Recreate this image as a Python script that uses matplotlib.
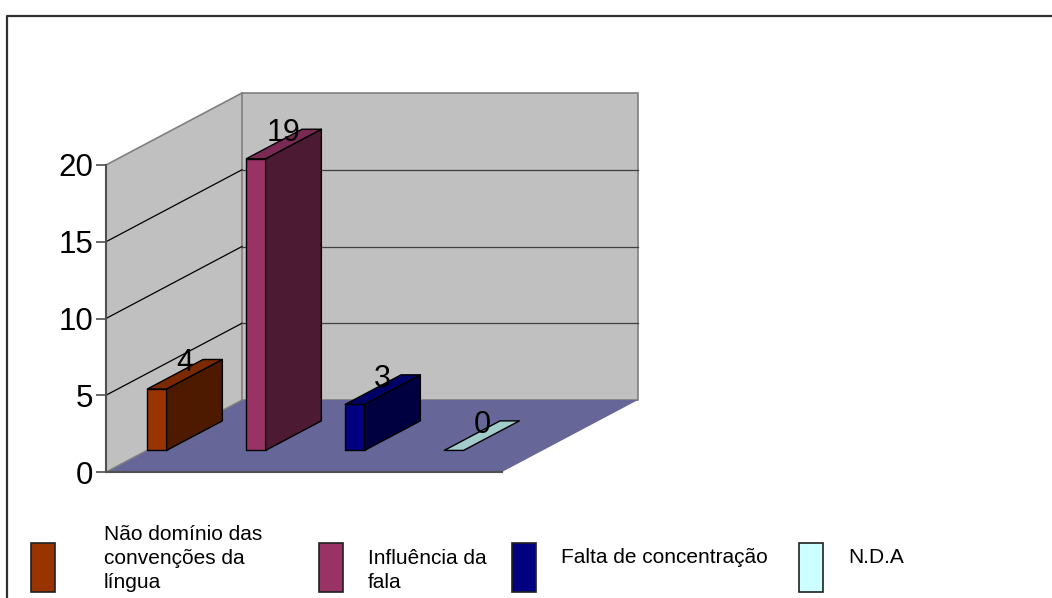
import matplotlib
matplotlib.use("Agg")
import matplotlib.pyplot as plt
from matplotlib.patches import Polygon, Rectangle
from matplotlib.lines import Line2D

plt.rcParams['font.family'] = ['Liberation Sans', 'DejaVu Sans']

# ---------------- data ----------------
categories = ["Não domínio das\nconvenções da\nlíngua",
              "Influência da\nfala",
              "Falta de concentração",
              "N.D.A"]
values = [4, 19, 3, 0]
y_ticks = [0, 5, 10, 15, 20]

# ---------------- style / layout ----------------
front_colors = ['#993300', '#993366', '#000080', '#CCFFFF']
W, H = 1052, 598
X0, SX = 106.0, 99.0        # pixel of category 0 / pixels per category
Y0, SY = 472.0, 15.35       # pixel of value 0 / pixels per unit
DX, DY = 136.0 / SX, 72.0 / SY   # full-depth offset in data units
D_FRONT, D_BACK = 0.30, 0.71
BAR_OFF, BAR_W = 0.005, 0.195
YMAX = 20

def shade(c, f):
    r, g, b = matplotlib.colors.to_rgb(c)
    return (r * f, g * f, b * f)

def P(x, v, d):
    return (x + d * DX, v + d * DY)

fig = plt.figure(figsize=(W / 100, H / 100), dpi=100)
ax = fig.add_axes([0, 0, 1, 1])
ax.set_xlim(-X0 / SX, (W - X0) / SX)
ax.set_ylim((Y0 - H) / SY, Y0 / SY)
ax.set_facecolor('white')
ncat = len(values)

# walls
side = Polygon([P(0, 0, 0), P(0, YMAX, 0), P(0, YMAX, 1), P(0, 0, 1)],
               closed=True, facecolor='#C0C0C0', edgecolor='none', zorder=1)
back = Polygon([P(0, 0, 1), P(0, YMAX, 1), P(ncat, YMAX, 1), P(ncat, 0, 1)],
               closed=True, facecolor='#C0C0C0', edgecolor='#808080', lw=1.2, zorder=1)
ax.add_patch(side)
ax.add_patch(back)
p1, p2 = P(0, YMAX, 0), P(0, YMAX, 1)
ax.add_line(Line2D([p1[0], p2[0]], [p1[1], p2[1]], color='#808080', lw=1.2, zorder=1.5))

# gridlines
for t in y_ticks[1:-1]:
    p1, p2, p3 = P(0, t, 0), P(0, t, 1), P(ncat, t, 1)
    ax.add_line(Line2D([p1[0], p2[0]], [p1[1], p2[1]], color='black', lw=0.9, zorder=1.5))
    ax.add_line(Line2D([p2[0], p3[0]], [p2[1], p3[1]], color='#404040', lw=0.9, zorder=1.5))

# floor
floor = Polygon([P(0, 0, 0), P(ncat, 0, 0), P(ncat, 0, 1), P(0, 0, 1)],
                closed=True, facecolor='#666699', edgecolor='none', zorder=1.6)
ax.add_patch(floor)
p1, p2 = P(0, 0, 0), P(0, 0, 1)
ax.add_line(Line2D([p1[0], p2[0]], [p1[1], p2[1]], color='#808080', lw=1.0, zorder=1.7))

# bars
for i, (v, c) in enumerate(zip(values, front_colors)):
    x0 = i + BAR_OFF
    x1 = x0 + BAR_W
    ec = dict(edgecolor='black', lw=1.0, joinstyle='round')
    if v > 0:
        ax.add_patch(Polygon([P(x0, 0, D_FRONT), P(x1, 0, D_FRONT), P(x1, v, D_FRONT), P(x0, v, D_FRONT)],
                             facecolor=c, zorder=3, **ec))
        ax.add_patch(Polygon([P(x1, 0, D_FRONT), P(x1, 0, D_BACK), P(x1, v, D_BACK), P(x1, v, D_FRONT)],
                             facecolor=shade(c, 0.5), zorder=3, **ec))
    ax.add_patch(Polygon([P(x0, v, D_FRONT), P(x1, v, D_FRONT), P(x1, v, D_BACK), P(x0, v, D_BACK)],
                         facecolor=shade(c, 0.8), zorder=3, **ec))
    tc = P((x0 + x1) / 2, v, (D_FRONT + D_BACK) / 2)
    ax.annotate(str(v), xy=tc, xytext=(0, 2.2), textcoords='offset points',
                ha='center', va='baseline', fontsize=22, color='black', zorder=5)

# axes spines / ticks
for s in ['top', 'right']:
    ax.spines[s].set_visible(False)
ax.spines['left'].set_position(('data', 0))
ax.spines['left'].set_bounds(0, YMAX)
ax.spines['bottom'].set_position(('data', 0))
ax.spines['bottom'].set_bounds(0, ncat)
for s in ['left', 'bottom']:
    ax.spines[s].set_color('#505050')
    ax.spines[s].set_linewidth(1.5)
    ax.spines[s].set_zorder(2.5)
ax.set_xticks([])
ax.set_yticks(y_ticks)
ax.set_yticklabels([str(t) for t in y_ticks])
ax.tick_params(axis='y', direction='out', length=7, width=1.2, color='#505050',
               labelsize=22.5, pad=2)

# outer chart frame
tx = lambda px: px / W
ty = lambda py: 1 - py / H
ax.add_line(Line2D([tx(7), tx(7), 1.01], [-0.01, ty(16), ty(16)], transform=ax.transAxes,
                   color='#303030', lw=1.6, zorder=6, clip_on=False))

# legend
LEG_BOX_X = [31, 319, 512, 799]
LEG_TEXT_X = [104, 368, 561, 848]
LEG_BASE_Y = [540, 564, 563, 563]
LEG_BOX_W, LEG_BOX_T, LEG_BOX_B = 24, 543, 592
for i, (lab, c) in enumerate(zip(categories, front_colors)):
    ax.add_patch(Rectangle((tx(LEG_BOX_X[i]), ty(LEG_BOX_B)), LEG_BOX_W / W,
                           (LEG_BOX_B - LEG_BOX_T) / H, transform=ax.transAxes,
                           facecolor=c, edgecolor='#202020', lw=1.2, zorder=6, clip_on=False))
    for j, line in enumerate(lab.split('\n')):
        ax.text(tx(LEG_TEXT_X[i]), ty(LEG_BASE_Y[i] + 24 * j), line, transform=ax.transAxes,
                ha='left', va='baseline', fontsize=15, color='black', zorder=6)

fig.savefig('out.png', dpi=100)
